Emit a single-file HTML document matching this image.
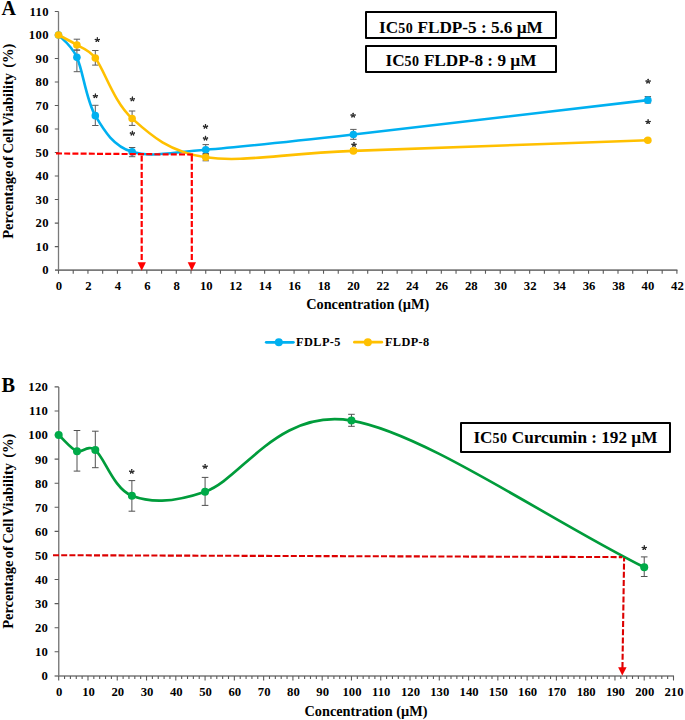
<!DOCTYPE html>
<html><head><meta charset="utf-8"><style>
html,body{margin:0;padding:0;background:#fff;}
body{width:685px;height:720px;overflow:hidden;position:relative;font-family:"Liberation Serif",serif;}
svg{position:absolute;left:0;top:0;}
.tl{font-family:"Liberation Serif",serif;font-weight:bold;font-size:12.7px;fill:#000;}
.yt{letter-spacing:0.35px;}
.t{position:absolute;font-family:"Liberation Serif",serif;font-weight:bold;white-space:pre;color:#000;line-height:1;}
.box{position:absolute;box-sizing:border-box;border:2.8px solid #000;border-radius:1px;background:#fff;}
.bt{position:absolute;left:0;right:0;text-align:center;font-family:"Liberation Serif",serif;font-weight:bold;font-size:17.2px;white-space:pre;line-height:1;}
.bt small{font-size:14px;letter-spacing:0.5px;}
.yl{position:absolute;width:220px;text-align:center;font-size:14.5px;word-spacing:-1.1px;transform:rotate(-90deg);transform-origin:50% 50%;font-family:"Liberation Serif",serif;font-weight:bold;white-space:pre;line-height:1;}
</style></head><body>
<svg width="685" height="720" viewBox="0 0 685 720">
<path d="M58.5,11.50V270.1" stroke="#7a7a7a" stroke-width="1.3" fill="none"/>
<path d="M54.8,246.59H58.5M54.8,223.08H58.5M54.8,199.57H58.5M54.8,176.06H58.5M54.8,152.55H58.5M54.8,129.05H58.5M54.8,105.54H58.5M54.8,82.03H58.5M54.8,58.52H58.5M54.8,35.01H58.5M54.8,11.50H58.5" stroke="#5a5a5a" stroke-width="1.1" fill="none"/>
<path d="M55,270.1H677.4" stroke="#7a7a7a" stroke-width="1.6" fill="none"/>
<path d="M58.50,270.1V273.8M73.22,270.1V273.8M87.95,270.1V273.8M102.67,270.1V273.8M117.40,270.1V273.8M132.12,270.1V273.8M146.84,270.1V273.8M161.57,270.1V273.8M176.29,270.1V273.8M191.01,270.1V273.8M205.74,270.1V273.8M220.46,270.1V273.8M235.19,270.1V273.8M249.91,270.1V273.8M264.63,270.1V273.8M279.36,270.1V273.8M294.08,270.1V273.8M308.80,270.1V273.8M323.53,270.1V273.8M338.25,270.1V273.8M352.98,270.1V273.8M367.70,270.1V273.8M382.42,270.1V273.8M397.15,270.1V273.8M411.87,270.1V273.8M426.60,270.1V273.8M441.32,270.1V273.8M456.04,270.1V273.8M470.77,270.1V273.8M485.49,270.1V273.8M500.21,270.1V273.8M514.94,270.1V273.8M529.66,270.1V273.8M544.39,270.1V273.8M559.11,270.1V273.8M573.83,270.1V273.8M588.56,270.1V273.8M603.28,270.1V273.8M618.00,270.1V273.8M632.73,270.1V273.8M647.45,270.1V273.8M662.18,270.1V273.8M676.90,270.1V273.8" stroke="#5a5a5a" stroke-width="1.1" fill="none"/>
<text x="48.9" y="274.35" class="tl yt" text-anchor="end">0</text>
<text x="48.9" y="250.84" class="tl yt" text-anchor="end">10</text>
<text x="48.9" y="227.33" class="tl yt" text-anchor="end">20</text>
<text x="48.9" y="203.82" class="tl yt" text-anchor="end">30</text>
<text x="48.9" y="180.31" class="tl yt" text-anchor="end">40</text>
<text x="48.9" y="156.80" class="tl yt" text-anchor="end">50</text>
<text x="48.9" y="133.30" class="tl yt" text-anchor="end">60</text>
<text x="48.9" y="109.79" class="tl yt" text-anchor="end">70</text>
<text x="48.9" y="86.28" class="tl yt" text-anchor="end">80</text>
<text x="48.9" y="62.77" class="tl yt" text-anchor="end">90</text>
<text x="48.9" y="39.26" class="tl yt" text-anchor="end">100</text>
<text x="48.9" y="15.75" class="tl yt" text-anchor="end">110</text>
<text x="59.00" y="289.6" class="tl" text-anchor="middle">0</text>
<text x="88.45" y="289.6" class="tl" text-anchor="middle">2</text>
<text x="117.90" y="289.6" class="tl" text-anchor="middle">4</text>
<text x="147.34" y="289.6" class="tl" text-anchor="middle">6</text>
<text x="176.79" y="289.6" class="tl" text-anchor="middle">8</text>
<text x="206.24" y="289.6" class="tl" text-anchor="middle">10</text>
<text x="235.69" y="289.6" class="tl" text-anchor="middle">12</text>
<text x="265.13" y="289.6" class="tl" text-anchor="middle">14</text>
<text x="294.58" y="289.6" class="tl" text-anchor="middle">16</text>
<text x="324.03" y="289.6" class="tl" text-anchor="middle">18</text>
<text x="353.48" y="289.6" class="tl" text-anchor="middle">20</text>
<text x="382.92" y="289.6" class="tl" text-anchor="middle">22</text>
<text x="412.37" y="289.6" class="tl" text-anchor="middle">24</text>
<text x="441.82" y="289.6" class="tl" text-anchor="middle">26</text>
<text x="471.27" y="289.6" class="tl" text-anchor="middle">28</text>
<text x="500.71" y="289.6" class="tl" text-anchor="middle">30</text>
<text x="530.16" y="289.6" class="tl" text-anchor="middle">32</text>
<text x="559.61" y="289.6" class="tl" text-anchor="middle">34</text>
<text x="589.06" y="289.6" class="tl" text-anchor="middle">36</text>
<text x="618.50" y="289.6" class="tl" text-anchor="middle">38</text>
<text x="647.95" y="289.6" class="tl" text-anchor="middle">40</text>
<text x="677.40" y="289.6" class="tl" text-anchor="middle">42</text>
<path d="M76.90,50.10V71.70M73.70,50.10H80.10M73.70,71.70H80.10" stroke="#5c5c5c" stroke-width="1.0" fill="none"/>
<path d="M95.31,105.30V125.50M92.11,105.30H98.51M92.11,125.50H98.51" stroke="#5c5c5c" stroke-width="1.0" fill="none"/>
<path d="M132.12,147.50V156.70M128.92,147.50H135.32M128.92,156.70H135.32" stroke="#5c5c5c" stroke-width="1.0" fill="none"/>
<path d="M205.74,144.60V154.50M202.54,144.60H208.94M202.54,154.50H208.94" stroke="#5c5c5c" stroke-width="1.0" fill="none"/>
<path d="M353.38,129.40V139.30M350.18,129.40H356.58M350.18,139.30H356.58" stroke="#5c5c5c" stroke-width="1.0" fill="none"/>
<path d="M647.85,96.60V103.00M644.65,96.60H651.05M644.65,103.00H651.05" stroke="#5c5c5c" stroke-width="1.0" fill="none"/>
<path d="M58.50,35.01 C61.50,38.65 70.90,44.18 76.90,57.34 C83.04,70.78 86.11,99.89 95.31,115.65 C104.51,131.40 113.71,146.17 132.12,151.85 C150.44,157.51 169.03,152.62 205.74,149.73 C242.61,146.83 279.69,142.72 353.38,134.45 C427.06,126.19 549.69,111.57 647.85,100.13" stroke="#00b0f0" stroke-width="2.6" fill="none"/>
<circle cx="58.50" cy="35.01" r="3.8" fill="#00b0f0"/>
<circle cx="76.90" cy="57.34" r="3.8" fill="#00b0f0"/>
<circle cx="95.31" cy="115.65" r="3.8" fill="#00b0f0"/>
<circle cx="132.12" cy="151.85" r="3.8" fill="#00b0f0"/>
<circle cx="205.74" cy="149.73" r="3.8" fill="#00b0f0"/>
<circle cx="353.38" cy="134.45" r="3.8" fill="#00b0f0"/>
<circle cx="647.85" cy="100.13" r="3.8" fill="#00b0f0"/>
<path d="M76.90,39.20V50.10M73.70,39.20H80.10M73.70,50.10H80.10" stroke="#5c5c5c" stroke-width="1.0" fill="none"/>
<path d="M95.31,50.50V65.10M92.11,50.50H98.51M92.11,65.10H98.51" stroke="#5c5c5c" stroke-width="1.0" fill="none"/>
<path d="M132.12,111.00V125.40M128.92,111.00H135.32M128.92,125.40H135.32" stroke="#5c5c5c" stroke-width="1.0" fill="none"/>
<path d="M205.74,153.50V160.80M202.54,153.50H208.94M202.54,160.80H208.94" stroke="#5c5c5c" stroke-width="1.0" fill="none"/>
<path d="M353.38,148.50V152.50M350.18,148.50H356.58M350.18,152.50H356.58" stroke="#5c5c5c" stroke-width="1.0" fill="none"/>
<path d="M647.85,138.50V141.50M644.65,138.50H651.05M644.65,141.50H651.05" stroke="#5c5c5c" stroke-width="1.0" fill="none"/>
<path d="M58.50,35.01 C64.63,38.34 70.77,41.16 76.90,45.00 C81.42,47.83 88.53,49.03 95.31,58.05 C104.51,70.29 113.71,101.93 132.12,118.47 C150.52,135.00 168.86,151.85 205.74,157.26 C242.61,162.66 279.69,153.75 353.38,150.91 C427.06,148.07 549.69,143.78 647.85,140.21" stroke="#ffc000" stroke-width="2.6" fill="none"/>
<circle cx="58.50" cy="35.01" r="3.8" fill="#ffc000"/>
<circle cx="76.90" cy="45.00" r="3.8" fill="#ffc000"/>
<circle cx="95.31" cy="58.05" r="3.8" fill="#ffc000"/>
<circle cx="132.12" cy="118.47" r="3.8" fill="#ffc000"/>
<circle cx="205.74" cy="157.26" r="3.8" fill="#ffc000"/>
<circle cx="353.38" cy="150.91" r="3.8" fill="#ffc000"/>
<circle cx="647.85" cy="140.21" r="3.8" fill="#ffc000"/>
<path d="M97.35,39.70L97.35,37.75M97.35,39.70L95.22,39.45M97.35,39.70L99.47,39.45M97.35,39.70L96.12,41.36M97.35,39.70L98.58,41.36" stroke="#262626" stroke-width="1.05" stroke-linecap="round" fill="none"/><circle cx="97.35" cy="37.91" r="0.72" fill="#262626"/><circle cx="95.40" cy="39.47" r="0.72" fill="#262626"/><circle cx="99.30" cy="39.47" r="0.72" fill="#262626"/><circle cx="96.22" cy="41.22" r="0.72" fill="#262626"/><circle cx="98.48" cy="41.22" r="0.72" fill="#262626"/>
<path d="M95.40,95.90L95.40,93.94M95.40,95.90L93.28,95.64M95.40,95.90L97.53,95.64M95.40,95.90L94.17,97.56M95.40,95.90L96.63,97.56" stroke="#262626" stroke-width="1.05" stroke-linecap="round" fill="none"/><circle cx="95.40" cy="94.11" r="0.72" fill="#262626"/><circle cx="93.45" cy="95.67" r="0.72" fill="#262626"/><circle cx="97.35" cy="95.67" r="0.72" fill="#262626"/><circle cx="94.27" cy="97.42" r="0.72" fill="#262626"/><circle cx="96.53" cy="97.42" r="0.72" fill="#262626"/>
<path d="M132.40,99.10L132.40,97.14M132.40,99.10L130.28,98.84M132.40,99.10L134.53,98.84M132.40,99.10L131.17,100.76M132.40,99.10L133.63,100.76" stroke="#262626" stroke-width="1.05" stroke-linecap="round" fill="none"/><circle cx="132.40" cy="97.31" r="0.72" fill="#262626"/><circle cx="130.45" cy="98.87" r="0.72" fill="#262626"/><circle cx="134.35" cy="98.87" r="0.72" fill="#262626"/><circle cx="131.27" cy="100.62" r="0.72" fill="#262626"/><circle cx="133.53" cy="100.62" r="0.72" fill="#262626"/>
<path d="M132.40,133.30L132.40,131.34M132.40,133.30L130.28,133.04M132.40,133.30L134.53,133.04M132.40,133.30L131.17,134.96M132.40,133.30L133.63,134.96" stroke="#262626" stroke-width="1.05" stroke-linecap="round" fill="none"/><circle cx="132.40" cy="131.51" r="0.72" fill="#262626"/><circle cx="130.45" cy="133.07" r="0.72" fill="#262626"/><circle cx="134.35" cy="133.07" r="0.72" fill="#262626"/><circle cx="131.27" cy="134.82" r="0.72" fill="#262626"/><circle cx="133.53" cy="134.82" r="0.72" fill="#262626"/>
<path d="M205.50,126.40L205.50,124.44M205.50,126.40L203.38,126.14M205.50,126.40L207.62,126.14M205.50,126.40L204.27,128.06M205.50,126.40L206.73,128.06" stroke="#262626" stroke-width="1.05" stroke-linecap="round" fill="none"/><circle cx="205.50" cy="124.61" r="0.72" fill="#262626"/><circle cx="203.55" cy="126.17" r="0.72" fill="#262626"/><circle cx="207.45" cy="126.17" r="0.72" fill="#262626"/><circle cx="204.37" cy="127.92" r="0.72" fill="#262626"/><circle cx="206.63" cy="127.92" r="0.72" fill="#262626"/>
<path d="M205.50,138.20L205.50,136.24M205.50,138.20L203.38,137.94M205.50,138.20L207.62,137.94M205.50,138.20L204.27,139.86M205.50,138.20L206.73,139.86" stroke="#262626" stroke-width="1.05" stroke-linecap="round" fill="none"/><circle cx="205.50" cy="136.41" r="0.72" fill="#262626"/><circle cx="203.55" cy="137.97" r="0.72" fill="#262626"/><circle cx="207.45" cy="137.97" r="0.72" fill="#262626"/><circle cx="204.37" cy="139.72" r="0.72" fill="#262626"/><circle cx="206.63" cy="139.72" r="0.72" fill="#262626"/>
<path d="M353.10,115.30L353.10,113.34M353.10,115.30L350.98,115.05M353.10,115.30L355.23,115.05M353.10,115.30L351.87,116.96M353.10,115.30L354.33,116.96" stroke="#262626" stroke-width="1.05" stroke-linecap="round" fill="none"/><circle cx="353.10" cy="113.51" r="0.72" fill="#262626"/><circle cx="351.15" cy="115.07" r="0.72" fill="#262626"/><circle cx="355.05" cy="115.07" r="0.72" fill="#262626"/><circle cx="351.97" cy="116.82" r="0.72" fill="#262626"/><circle cx="354.23" cy="116.82" r="0.72" fill="#262626"/>
<path d="M354.00,144.50L354.00,142.54M354.00,144.50L351.88,144.25M354.00,144.50L356.12,144.25M354.00,144.50L352.77,146.16M354.00,144.50L355.23,146.16" stroke="#262626" stroke-width="1.05" stroke-linecap="round" fill="none"/><circle cx="354.00" cy="142.71" r="0.72" fill="#262626"/><circle cx="352.05" cy="144.27" r="0.72" fill="#262626"/><circle cx="355.95" cy="144.27" r="0.72" fill="#262626"/><circle cx="352.87" cy="146.02" r="0.72" fill="#262626"/><circle cx="355.13" cy="146.02" r="0.72" fill="#262626"/>
<path d="M648.10,81.30L648.10,79.34M648.10,81.30L645.98,81.05M648.10,81.30L650.23,81.05M648.10,81.30L646.87,82.96M648.10,81.30L649.33,82.96" stroke="#262626" stroke-width="1.05" stroke-linecap="round" fill="none"/><circle cx="648.10" cy="79.51" r="0.72" fill="#262626"/><circle cx="646.15" cy="81.07" r="0.72" fill="#262626"/><circle cx="650.05" cy="81.07" r="0.72" fill="#262626"/><circle cx="646.97" cy="82.82" r="0.72" fill="#262626"/><circle cx="649.23" cy="82.82" r="0.72" fill="#262626"/>
<path d="M648.10,121.70L648.10,119.74M648.10,121.70L645.98,121.44M648.10,121.70L650.23,121.44M648.10,121.70L646.87,123.36M648.10,121.70L649.33,123.36" stroke="#262626" stroke-width="1.05" stroke-linecap="round" fill="none"/><circle cx="648.10" cy="119.91" r="0.72" fill="#262626"/><circle cx="646.15" cy="121.47" r="0.72" fill="#262626"/><circle cx="650.05" cy="121.47" r="0.72" fill="#262626"/><circle cx="646.97" cy="123.22" r="0.72" fill="#262626"/><circle cx="649.23" cy="123.22" r="0.72" fill="#262626"/>
<path d="M56,153.45L193,154.55" stroke="#ff0000" stroke-width="2.2" stroke-dasharray="6 2.2" fill="none"/>
<path d="M141.7,155.5V260.5" stroke="#ff0000" stroke-width="2.2" stroke-dasharray="6 2.2" fill="none"/>
<path d="M191.8,155.5V260.5" stroke="#ff0000" stroke-width="2.2" stroke-dasharray="6 2.2" fill="none"/>
<path d="M137.6,262.2H145.9L141.7,270.8Z" fill="#ff0000"/>
<path d="M187.7,262.2H196L191.8,270.8Z" fill="#ff0000"/>
<path d="M58.75,386.9V675.9" stroke="#7a7a7a" stroke-width="1.4" fill="none"/>
<path d="M54.6,651.82H58.75M54.6,627.73H58.75M54.6,603.65H58.75M54.6,579.57H58.75M54.6,555.48H58.75M54.6,531.40H58.75M54.6,507.32H58.75M54.6,483.23H58.75M54.6,459.15H58.75M54.6,435.07H58.75M54.6,410.98H58.75M54.6,386.90H58.75" stroke="#5a5a5a" stroke-width="1.1" fill="none"/>
<path d="M54.6,675.9H674" stroke="#7a7a7a" stroke-width="1.5" fill="none"/>
<path d="M58.70,675.9V680.40M64.56,675.9V679.10M70.41,675.9V679.10M76.27,675.9V679.10M82.12,675.9V679.10M87.98,675.9V680.40M93.83,675.9V679.10M99.69,675.9V679.10M105.54,675.9V679.10M111.40,675.9V679.10M117.25,675.9V680.40M123.11,675.9V679.10M128.96,675.9V679.10M134.82,675.9V679.10M140.67,675.9V679.10M146.53,675.9V680.40M152.38,675.9V679.10M158.24,675.9V679.10M164.09,675.9V679.10M169.95,675.9V679.10M175.80,675.9V680.40M181.66,675.9V679.10M187.52,675.9V679.10M193.37,675.9V679.10M199.23,675.9V679.10M205.08,675.9V680.40M210.94,675.9V679.10M216.79,675.9V679.10M222.65,675.9V679.10M228.50,675.9V679.10M234.36,675.9V680.40M240.21,675.9V679.10M246.07,675.9V679.10M251.92,675.9V679.10M257.78,675.9V679.10M263.63,675.9V680.40M269.49,675.9V679.10M275.34,675.9V679.10M281.20,675.9V679.10M287.05,675.9V679.10M292.91,675.9V680.40M298.76,675.9V679.10M304.62,675.9V679.10M310.48,675.9V679.10M316.33,675.9V679.10M322.19,675.9V680.40M328.04,675.9V679.10M333.90,675.9V679.10M339.75,675.9V679.10M345.61,675.9V679.10M351.46,675.9V680.40M357.32,675.9V679.10M363.17,675.9V679.10M369.03,675.9V679.10M374.88,675.9V679.10M380.74,675.9V680.40M386.59,675.9V679.10M392.45,675.9V679.10M398.30,675.9V679.10M404.16,675.9V679.10M410.01,675.9V680.40M415.87,675.9V679.10M421.72,675.9V679.10M427.58,675.9V679.10M433.44,675.9V679.10M439.29,675.9V680.40M445.15,675.9V679.10M451.00,675.9V679.10M456.86,675.9V679.10M462.71,675.9V679.10M468.57,675.9V680.40M474.42,675.9V679.10M480.28,675.9V679.10M486.13,675.9V679.10M491.99,675.9V679.10M497.84,675.9V680.40M503.70,675.9V679.10M509.55,675.9V679.10M515.41,675.9V679.10M521.26,675.9V679.10M527.12,675.9V680.40M532.97,675.9V679.10M538.83,675.9V679.10M544.68,675.9V679.10M550.54,675.9V679.10M556.40,675.9V680.40M562.25,675.9V679.10M568.11,675.9V679.10M573.96,675.9V679.10M579.82,675.9V679.10M585.67,675.9V680.40M591.53,675.9V679.10M597.38,675.9V679.10M603.24,675.9V679.10M609.09,675.9V679.10M614.95,675.9V680.40M620.80,675.9V679.10M626.66,675.9V679.10M632.51,675.9V679.10M638.37,675.9V679.10M644.22,675.9V680.40M650.08,675.9V679.10M655.93,675.9V679.10M661.79,675.9V679.10M667.64,675.9V679.10M673.50,675.9V680.40" stroke="#5a5a5a" stroke-width="1.1" fill="none"/>
<text x="48.3" y="680.30" class="tl yt" text-anchor="end">0</text>
<text x="48.3" y="656.22" class="tl yt" text-anchor="end">10</text>
<text x="48.3" y="632.13" class="tl yt" text-anchor="end">20</text>
<text x="48.3" y="608.05" class="tl yt" text-anchor="end">30</text>
<text x="48.3" y="583.97" class="tl yt" text-anchor="end">40</text>
<text x="48.3" y="559.88" class="tl yt" text-anchor="end">50</text>
<text x="48.3" y="535.80" class="tl yt" text-anchor="end">60</text>
<text x="48.3" y="511.72" class="tl yt" text-anchor="end">70</text>
<text x="48.3" y="487.63" class="tl yt" text-anchor="end">80</text>
<text x="48.3" y="463.55" class="tl yt" text-anchor="end">90</text>
<text x="48.3" y="439.47" class="tl yt" text-anchor="end">100</text>
<text x="48.3" y="415.38" class="tl yt" text-anchor="end">110</text>
<text x="48.3" y="391.30" class="tl yt" text-anchor="end">120</text>
<text x="59.20" y="695.6" class="tl" text-anchor="middle">0</text>
<text x="88.48" y="695.6" class="tl" text-anchor="middle">10</text>
<text x="117.75" y="695.6" class="tl" text-anchor="middle">20</text>
<text x="147.03" y="695.6" class="tl" text-anchor="middle">30</text>
<text x="176.30" y="695.6" class="tl" text-anchor="middle">40</text>
<text x="205.58" y="695.6" class="tl" text-anchor="middle">50</text>
<text x="234.86" y="695.6" class="tl" text-anchor="middle">60</text>
<text x="264.13" y="695.6" class="tl" text-anchor="middle">70</text>
<text x="293.41" y="695.6" class="tl" text-anchor="middle">80</text>
<text x="322.69" y="695.6" class="tl" text-anchor="middle">90</text>
<text x="351.96" y="695.6" class="tl" text-anchor="middle">100</text>
<text x="381.24" y="695.6" class="tl" text-anchor="middle">110</text>
<text x="410.51" y="695.6" class="tl" text-anchor="middle">120</text>
<text x="439.79" y="695.6" class="tl" text-anchor="middle">130</text>
<text x="469.07" y="695.6" class="tl" text-anchor="middle">140</text>
<text x="498.34" y="695.6" class="tl" text-anchor="middle">150</text>
<text x="527.62" y="695.6" class="tl" text-anchor="middle">160</text>
<text x="556.90" y="695.6" class="tl" text-anchor="middle">170</text>
<text x="586.17" y="695.6" class="tl" text-anchor="middle">180</text>
<text x="615.45" y="695.6" class="tl" text-anchor="middle">190</text>
<text x="644.72" y="695.6" class="tl" text-anchor="middle">200</text>
<text x="674.00" y="695.6" class="tl" text-anchor="middle">210</text>
<path d="M77.00,430.50V471.10M73.70,430.50H80.30M73.70,471.10H80.30" stroke="#505050" stroke-width="1.0" fill="none"/>
<path d="M95.30,431.20V467.70M92.00,431.20H98.60M92.00,467.70H98.60" stroke="#505050" stroke-width="1.0" fill="none"/>
<path d="M131.89,480.60V511.20M128.59,480.60H135.19M128.59,511.20H135.19" stroke="#505050" stroke-width="1.0" fill="none"/>
<path d="M205.08,477.40V505.40M201.78,477.40H208.38M201.78,505.40H208.38" stroke="#505050" stroke-width="1.0" fill="none"/>
<path d="M351.46,414.30V426.30M348.16,414.30H354.76M348.16,426.30H354.76" stroke="#505050" stroke-width="1.0" fill="none"/>
<path d="M644.22,556.90V576.50M640.92,556.90H647.52M640.92,576.50H647.52" stroke="#505050" stroke-width="1.0" fill="none"/>
<path d="M58.70,435.07 C64.80,440.45 70.90,448.71 77.00,451.20 C81.74,453.14 88.18,444.22 95.30,450.00 C104.44,457.42 113.59,488.81 131.89,495.76 C149.23,502.34 170.40,503.53 205.08,491.66 C241.68,479.14 278.27,408.01 351.46,420.62 C424.65,433.22 546.64,518.39 644.22,567.28" stroke="#009c3b" stroke-width="2.7" fill="none"/>
<circle cx="58.70" cy="435.07" r="4" fill="#00aa48"/>
<circle cx="77.00" cy="451.20" r="4" fill="#00aa48"/>
<circle cx="95.30" cy="450.00" r="4" fill="#00aa48"/>
<circle cx="131.89" cy="495.76" r="4" fill="#00aa48"/>
<circle cx="205.08" cy="491.66" r="4" fill="#00aa48"/>
<circle cx="351.46" cy="420.62" r="4" fill="#00aa48"/>
<circle cx="644.22" cy="567.28" r="4" fill="#00aa48"/>
<path d="M131.75,471.40L131.75,469.45M131.75,471.40L129.62,471.15M131.75,471.40L133.88,471.15M131.75,471.40L130.52,473.06M131.75,471.40L132.98,473.06" stroke="#262626" stroke-width="1.05" stroke-linecap="round" fill="none"/><circle cx="131.75" cy="469.61" r="0.72" fill="#262626"/><circle cx="129.80" cy="471.17" r="0.72" fill="#262626"/><circle cx="133.70" cy="471.17" r="0.72" fill="#262626"/><circle cx="130.62" cy="472.92" r="0.72" fill="#262626"/><circle cx="132.88" cy="472.92" r="0.72" fill="#262626"/>
<path d="M205.10,466.40L205.10,464.45M205.10,466.40L202.97,466.15M205.10,466.40L207.22,466.15M205.10,466.40L203.87,468.06M205.10,466.40L206.33,468.06" stroke="#262626" stroke-width="1.05" stroke-linecap="round" fill="none"/><circle cx="205.10" cy="464.61" r="0.72" fill="#262626"/><circle cx="203.15" cy="466.17" r="0.72" fill="#262626"/><circle cx="207.05" cy="466.17" r="0.72" fill="#262626"/><circle cx="203.97" cy="467.92" r="0.72" fill="#262626"/><circle cx="206.23" cy="467.92" r="0.72" fill="#262626"/>
<path d="M644.30,547.70L644.30,545.75M644.30,547.70L642.17,547.45M644.30,547.70L646.42,547.45M644.30,547.70L643.07,549.36M644.30,547.70L645.53,549.36" stroke="#262626" stroke-width="1.05" stroke-linecap="round" fill="none"/><circle cx="644.30" cy="545.91" r="0.72" fill="#262626"/><circle cx="642.35" cy="547.47" r="0.72" fill="#262626"/><circle cx="646.25" cy="547.47" r="0.72" fill="#262626"/><circle cx="643.17" cy="549.22" r="0.72" fill="#262626"/><circle cx="645.43" cy="549.22" r="0.72" fill="#262626"/>
<path d="M53,555.2L622.3,557.1" stroke="#dc0000" stroke-width="2.1" stroke-dasharray="6 2.2" fill="none"/>
<path d="M622.45,668L624.1,558" stroke="#dc0000" stroke-width="2.1" stroke-dasharray="6 2.2" fill="none"/>
<path d="M618.1,667.2H626.6L622.3,675.6Z" fill="#f00000"/>
</svg>
<div class="t" style="left:1.5px;top:-2px;font-size:20px">A</div>
<div class="t" style="left:1.5px;top:374.5px;font-size:20.3px">B</div>
<div class="yl" style="left:-102.2px;top:134px">Percentage of Cell Viability  (%)</div>
<div class="yl" style="left:-102.2px;top:523.5px">Percentage of Cell Viability  (%)</div>
<div class="t" style="left:267.7px;top:297px;width:200px;text-align:center;font-size:14.3px">Concentration (µM)</div>
<div class="t" style="left:266px;top:703.5px;width:200px;text-align:center;font-size:14.3px">Concentration (µM)</div>
<svg width="685" height="720" style="pointer-events:none">
<path d="M266.2,342.3H293.4" stroke="#00b0f0" stroke-width="2.7" stroke-linecap="round"/><circle cx="278.8" cy="342.3" r="4" fill="#00b0f0"/>
<path d="M354.4,342.2H381.8" stroke="#ffc000" stroke-width="2.7" stroke-linecap="round"/><circle cx="367.85" cy="342.2" r="4" fill="#ffc000"/>
</svg>
<div class="t" style="left:296.1px;top:335.8px;font-size:12.3px;letter-spacing:0.4px">FDLP-5</div>
<div class="t" style="left:384.9px;top:335.8px;font-size:12.3px;letter-spacing:0.4px">FLDP-8</div>
<div class="box" style="left:364.6px;top:11.1px;width:192.7px;height:27.8px"><div class="bt" style="top:6.2px">IC<small>50</small> FLDP-5 : 5.6 µM</div></div>
<div class="box" style="left:364.6px;top:44.75px;width:192.7px;height:28px"><div class="bt" style="top:5.5px">IC<small>50</small> FLDP-8 : 9 µM</div></div>
<div class="box" style="left:460px;top:421.8px;width:210.9px;height:31.2px"><div class="bt" style="top:5.6px">IC<small>50</small> Curcumin : 192 µM</div></div>
</body></html>
